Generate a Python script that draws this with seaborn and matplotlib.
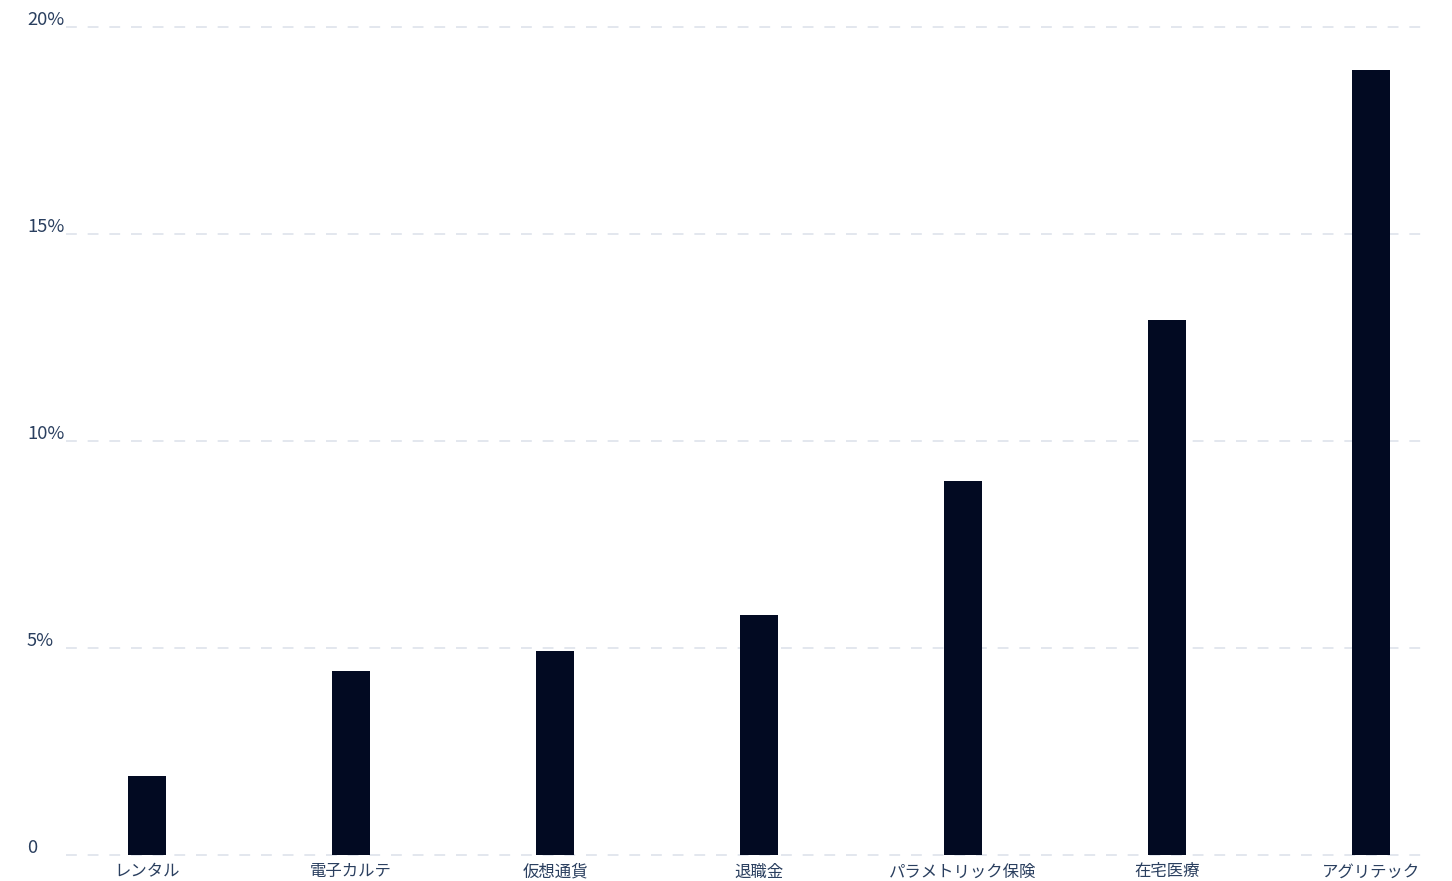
import matplotlib
matplotlib.use("Agg")
import matplotlib.pyplot as plt
import matplotlib.transforms as mtransforms
import seaborn as sns
import pandas as pd

categories = ["レンタル", "電子カルテ", "仮想通貨", "退職金", "パラメトリック保険", "在宅医療", "アグリテック"]
values = [1.9, 4.45, 4.93, 5.8, 9.03, 12.92, 18.95]
y_ticks = [0, 5, 10, 15, 20]
y_tick_labels = ["0", "5%", "10%", "15%", "20%"]

sns.set_theme(style="white")
plt.rcParams["font.family"] = ["Noto Sans CJK JP", "DejaVu Sans"]

W, H = 1452, 881
fig = plt.figure(figsize=(W / 100, H / 100), dpi=100)
ax = fig.add_axes([66 / W, (H - 855) / H, (1430 - 66) / W, (855 - 27) / H])

df = pd.DataFrame({"cat": categories, "val": values})
sns.barplot(data=df, x="cat", y="val", color="#020A22", saturation=1, width=0.183,
            linewidth=0, ax=ax, zorder=3)

ax.set_xlim(-0.397, 6.289)
ax.set_ylim(0, 20)
for s in ax.spines.values():
    s.set_visible(False)

text_color = "#2A3F5F"
ax.set_yticks(y_ticks)
ax.set_yticklabels([])
ax.tick_params(axis="y", length=0)
offset = mtransforms.ScaledTranslation(0, -2 / 100, fig.dpi_scale_trans)
for t, lab in zip(y_ticks, y_tick_labels):
    ax.text((27 - 66) / (1430 - 66), t, lab, transform=ax.get_yaxis_transform() + offset,
            ha="left", va="bottom", fontsize=13.2, color=text_color, clip_on=False)
    ax.axhline(t, color="#E1E5ED", lw=1.3, linestyle=(0, (6, 6)), zorder=1, clip_on=False)

ax.tick_params(axis="x", length=0, pad=6, labelsize=11.8, labelcolor=text_color)
ax.set_xlabel("")
ax.set_ylabel("")
ax.grid(False)

fig.savefig("out.png", dpi=100, facecolor="white")
